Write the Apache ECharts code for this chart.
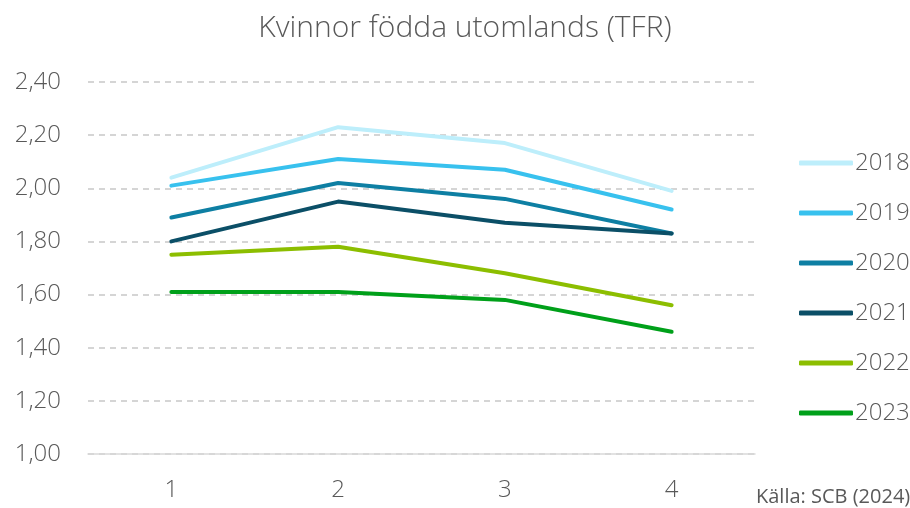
<!DOCTYPE html>
<html>
<head>
<meta charset="utf-8">
<script src="https://cdn.jsdelivr.net/npm/echarts@6/dist/echarts.min.js"></script>
<style>
  html, body { margin: 0; padding: 0; background: #fff; }
  #chart { width: 910px; height: 508px; }
</style>
</head>
<body>
<div id="chart"></div>
<script>
// kategorier och värden (TFR)
const categories = ['1', '2', '3', '4']
const years = ['2018', '2019', '2020', '2021', '2022', '2023']
const tfr2018 = [2.04, 2.23, 2.17, 1.99]
const tfr2019 = [2.01, 2.11, 2.07, 1.92]
const tfr2020 = [1.89, 2.02, 1.96, 1.83]
const tfr2021 = [1.80, 1.95, 1.87, 1.83]
const tfr2022 = [1.75, 1.78, 1.68, 1.56]
const tfr2023 = [1.61, 1.61, 1.58, 1.46]
const colors = ['#bdeefb', '#38c1ee', '#0e7fa3', '#0b4f67', '#8cbe00', '#00a01a']

const values = [tfr2018, tfr2019, tfr2020, tfr2021, tfr2022, tfr2023]
const font = '"Open Sans", sans-serif'
const grey = '#595959'

let chart = echarts.init(document.getElementById('chart'))

chart.setOption({
	animation: false,
	color: colors,
	title: {
		text: 'Kvinnor födda utomlands (TFR)',
		left: 460,
		top: 8,
		textAlign: 'center',
		textStyle: { fontFamily: font, fontWeight: 300, fontSize: 30, color: grey }
	},
	grid: { left: 88, right: 155, top: 82, bottom: 54, containLabel: false },
	legend: {
		orient: 'vertical',
		left: 794,
		top: 144,
		icon: 'roundRect',
		itemWidth: 54,
		itemHeight: 5,
		itemGap: 22,
		textStyle: { fontFamily: font, fontWeight: 300, fontSize: 24, color: grey, padding: [0, 0, 0, -3], lineHeight: 28 },
		data: years
	},
	xAxis: {
		type: 'category',
		data: categories,
		boundaryGap: true,
		axisLine: { lineStyle: { color: '#d9d9d9', width: 1.5 } },
		axisTick: { show: false },
		axisLabel: { fontFamily: font, fontWeight: 300, fontSize: 24, color: grey, margin: 24 }
	},
	yAxis: {
		type: 'value',
		min: 1,
		max: 2.4,
		interval: 0.2,
		axisLine: { show: false },
		axisTick: { show: false },
		axisLabel: {
			fontFamily: font, fontWeight: 300, fontSize: 24, color: grey, margin: 27,
			formatter: v => v.toFixed(2).replace('.', ',')
		},
		splitLine: { lineStyle: { color: '#c8c8c8', width: 1.5, type: [6, 5] } }
	},
	graphic: [{
		type: 'text',
		left: 756,
		top: 487,
		style: { text: 'Källa: SCB (2024)', fontFamily: font, fontSize: 20, fill: grey }
	}],
	series: years.map((y, i) => ({
		name: y,
		type: 'line',
		data: values[i],
		symbol: 'none',
		lineStyle: { width: 4, cap: 'round', join: 'round' }
	}))
})
</script>
</body>
</html>
